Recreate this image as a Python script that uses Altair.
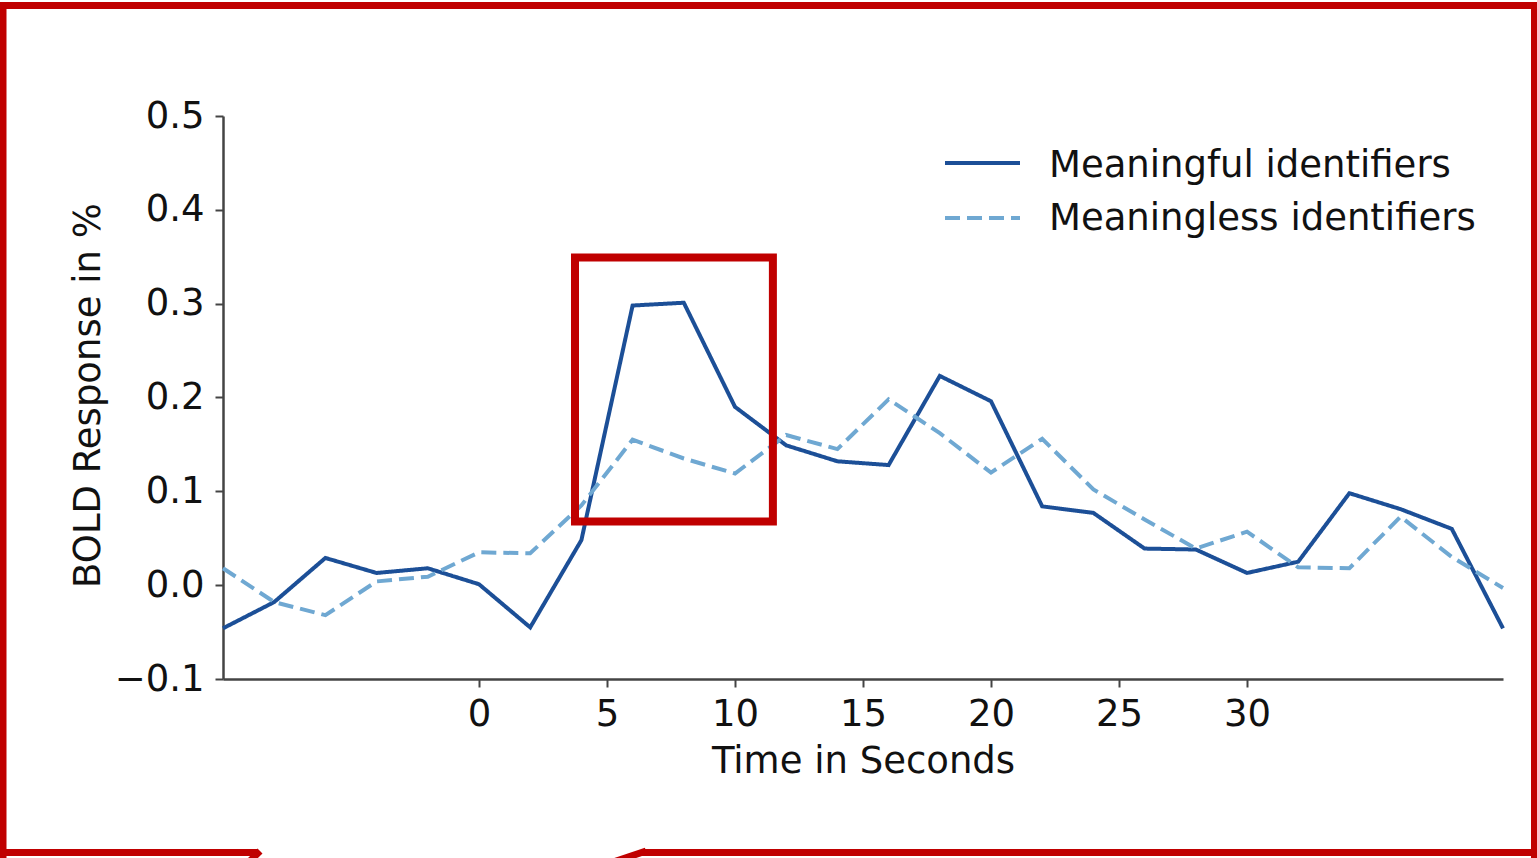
import altair as alt
import pandas as pd

# ---- data ----
time_s = [-10, -8, -6, -4, -2, 0, 2, 4, 6, 8, 10, 12, 14, 16, 18, 20, 22, 24, 26, 28, 30, 32, 34, 36, 38, 40]
meaningful = [-0.046, -0.018, 0.029, 0.013, 0.018, 0.001, -0.045, 0.048, 0.298, 0.301, 0.190, 0.149, 0.132,
              0.128, 0.223, 0.196, 0.084, 0.077, 0.039, 0.038, 0.013, 0.025, 0.098, 0.081, 0.060, -0.046]
meaningless = [0.018, -0.018, -0.032, 0.004, 0.009, 0.035, 0.034, 0.085, 0.155, 0.135, 0.119, 0.160, 0.145,
               0.198, 0.162, 0.120, 0.156, 0.102, 0.070, 0.039, 0.057, 0.019, 0.018, 0.073, 0.030, -0.003]
series_names = ["Meaningful identifiers", "Meaningless identifiers"]
x_ticks = [0, 5, 10, 15, 20, 25, 30]
y_ticks = [-0.1, 0.0, 0.1, 0.2, 0.3, 0.4, 0.5]
x_domain = [-10, 40]
y_domain = [-0.1, 0.5]
# highlighted region (data coordinates)
highlight_x = [3.75, 11.48]
highlight_y = [0.0678, 0.3492]

# ---- style ----
FONT = "DejaVu Sans"
FS = 37
TXT = "#111111"
RED = "#c00000"
COLORS = ["#1c4f97", "#6fa8d2"]
DASH = [15, 7]
LW = 4
W, H = 1280, 563
LEFT, TOP = 223, 116

df = pd.DataFrame({
    "t": time_s + time_s,
    "v": meaningful + meaningless,
    "s": [series_names[0]] * len(time_s) + [series_names[1]] * len(time_s),
})

xs = alt.Scale(domain=x_domain, nice=False, zero=False)
ys = alt.Scale(domain=y_domain, nice=False, zero=False)

x_axis = alt.Axis(
    values=x_ticks, title="Time in Seconds", grid=False, labelFlush=False,
    domainColor="#444444", domainWidth=2.5, tickColor="#444444", tickWidth=2, tickSize=8,
    labelFont=FONT, labelFontSize=FS, labelColor=TXT, labelPadding=9,
    titleFont=FONT, titleFontSize=FS, titleFontWeight="normal", titleColor=TXT,
    titleX=W / 2, titleY=93, titleAlign="center", titleBaseline="alphabetic")
y_axis = alt.Axis(
    values=y_ticks, format=".1f", title="BOLD Response in %", grid=False,
    domainColor="#444444", domainWidth=2.5, tickColor="#444444", tickWidth=2, tickSize=8,
    labelFont=FONT, labelFontSize=FS, labelColor=TXT, labelPadding=11,
    titleFont=FONT, titleFontSize=FS, titleFontWeight="normal", titleColor=TXT,
    titleAngle=270, titleX=-124, titleY=279, titleAlign="center", titleBaseline="alphabetic")

lines = alt.Chart(df).mark_line(strokeWidth=LW).encode(
    x=alt.X("t:Q", scale=xs, axis=x_axis, title="Time in Seconds"),
    y=alt.Y("v:Q", scale=ys, axis=y_axis, title="BOLD Response in %"),
    color=alt.Color("s:N", scale=alt.Scale(domain=series_names, range=COLORS), legend=None),
    strokeDash=alt.StrokeDash("s:N", scale=alt.Scale(domain=series_names, range=[[1, 0], DASH]), legend=None),
)

hl = alt.Chart(pd.DataFrame({"t": [highlight_x[0]], "t2": [highlight_x[1]],
                             "v": [highlight_y[0]], "v2": [highlight_y[1]]})).mark_rect(
    fillOpacity=0, stroke=RED, strokeWidth=8).encode(
    x=alt.X("t:Q", scale=xs, axis=x_axis, title="Time in Seconds"), x2="t2:Q",
    y=alt.Y("v:Q", scale=ys, axis=y_axis, title="BOLD Response in %"), y2="v2:Q")

one = pd.DataFrame({"k": [0]})


def seg(x1, y1, x2, y2, color=RED, width=7, dash=None):
    kw = dict(color=color, strokeWidth=width, strokeCap="butt")
    if dash:
        kw["strokeDash"] = dash
    return alt.Chart(one).mark_rule(**kw).encode(
        x=alt.value(x1 - LEFT), y=alt.value(y1 - TOP),
        x2=alt.value(x2 - LEFT), y2=alt.value(y2 - TOP))


frame = [
    seg(3, 2, 3, 858),            # left
    seg(0, 5.5, 1537, 5.5),       # top
    seg(1534.5, 2, 1534.5, 858),  # right
    seg(0, 852.5, 258, 852.5),    # bottom-left
    seg(260, 851, 245, 866),      # left tail
    seg(642, 852.5, 1537, 852.5), # bottom-right
    seg(646, 851, 560, 880),      # right tail
]

legend_lines = [
    seg(945, 163, 1020, 163, color=COLORS[0], width=LW),
    seg(945, 218, 1020, 218, color=COLORS[1], width=LW, dash=DASH),
]


def label(text, x, y):
    return alt.Chart(one).mark_text(align="left", baseline="alphabetic", font=FONT,
                                    fontSize=FS, color=TXT).encode(
        x=alt.value(x - LEFT), y=alt.value(y - TOP), text=alt.value(text))


legend_text = [label(series_names[0], 1049, 177), label(series_names[1], 1049, 230)]

chart = alt.layer(lines, hl, *legend_lines, *legend_text, *frame).properties(
    width=W, height=H,
    autosize=alt.AutoSizeParams(type="none"),
    padding={"left": LEFT, "top": TOP, "right": 1537 - LEFT - W, "bottom": 858 - TOP - H},
    background="white",
).configure_view(stroke=None)

chart.save("out.html", embed_options={"renderer": "svg", "actions": False})
